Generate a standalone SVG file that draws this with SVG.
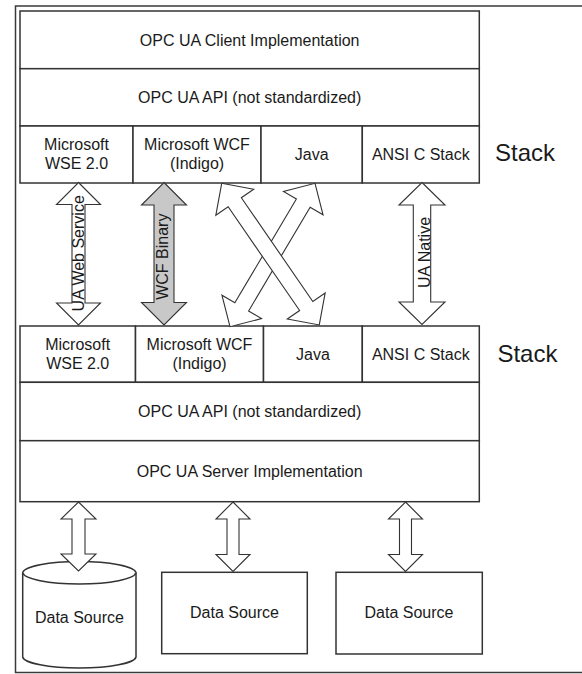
<svg xmlns="http://www.w3.org/2000/svg" width="582" height="674" viewBox="0 0 582 674">
<style>
  .box { fill: #ffffff; stroke: #333333; stroke-width: 1.5; }
  .frame { fill: #ffffff; stroke: #3a3a3a; stroke-width: 1.5; }
  .arr { fill: #ffffff; stroke: #333333; stroke-width: 1.1; stroke-linejoin: miter; }
  .arr-gray { fill: #c8c8c8; stroke: #333333; stroke-width: 1.1; }
  text { font-family: "Liberation Sans", Arial, sans-serif; font-size: 16px; fill: #1a1a1a; }
  .c { text-anchor: middle; }
  .big { font-size: 24px; }
</style>

<rect class="frame" x="15.5" y="6" width="600" height="666.5"/>

<!-- Client side -->
<g id="client-impl">
  <rect class="box" x="20" y="11" width="459.3" height="57.7"/>
  <text class="c" x="249.7" y="46">OPC UA Client Implementation</text>
</g>
<g id="client-api">
  <rect class="box" x="20" y="68.7" width="459.3" height="57.3"/>
  <text class="c" x="249.7" y="103">OPC UA API (not standardized)</text>
</g>
<g id="client-stack">
  <rect class="box" x="20" y="126" width="113" height="57"/>
  <text class="c" x="76.5" y="150">Microsoft</text>
  <text class="c" x="76.5" y="169.3">WSE 2.0</text>
  <rect class="box" x="133" y="126" width="128" height="57"/>
  <text class="c" x="197" y="150">Microsoft WCF</text>
  <text class="c" x="197" y="169.3">(Indigo)</text>
  <rect class="box" x="261" y="126" width="101.3" height="57"/>
  <text class="c" x="311.7" y="160">Java</text>
  <rect class="box" x="362.3" y="126" width="117" height="57"/>
  <text class="c" x="420.8" y="160">ANSI C Stack</text>
  <text class="big" x="495" y="161">Stack</text>
</g>

<!-- Server side -->
<g id="server-stack">
  <rect class="box" x="20" y="326" width="115.5" height="56.3"/>
  <text class="c" x="77.7" y="350">Microsoft</text>
  <text class="c" x="77.7" y="369.3">WSE 2.0</text>
  <rect class="box" x="135.5" y="326" width="128" height="56.3"/>
  <text class="c" x="199.5" y="350">Microsoft WCF</text>
  <text class="c" x="199.5" y="369.3">(Indigo)</text>
  <rect class="box" x="263.5" y="326" width="98.8" height="56.3"/>
  <text class="c" x="312.9" y="360">Java</text>
  <rect class="box" x="362.3" y="326" width="117" height="56.3"/>
  <text class="c" x="420.8" y="360">ANSI C Stack</text>
  <text class="big" x="497.4" y="361.7">Stack</text>
</g>
<g id="server-api">
  <rect class="box" x="20" y="382.3" width="459.3" height="58.4"/>
  <text class="c" x="249.7" y="417.3">OPC UA API (not standardized)</text>
</g>
<g id="server-impl">
  <rect class="box" x="20" y="440.7" width="459.3" height="61"/>
  <text class="c" x="249.7" y="476.8">OPC UA Server Implementation</text>
</g>

<!-- Data sources -->
<g id="ds-cylinder">
  <path class="box" d="M22.7,572.7 A56.7,11.7 0 0 1 136,572.7 V657 A56.7,11.5 0 0 1 22.7,657 Z"/>
  <path class="box" fill="none" d="M22.7,572.7 A56.7,11.7 0 0 0 136,572.7"/>
  <text class="c" x="79.4" y="623.3">Data Source</text>
</g>
<g id="ds-box-1">
  <rect class="box" x="161.7" y="572.3" width="145.6" height="81.4"/>
  <text class="c" x="234.5" y="617.7">Data Source</text>
</g>
<g id="ds-box-2">
  <rect class="box" x="336" y="572.3" width="146.3" height="81.7"/>
  <text class="c" x="409" y="618.3">Data Source</text>
</g>

<!-- Connectors -->
<g id="connectors">
  <g id="ua-web-service">
    <polygon class="arr" points="78.5,182.5 100.5,204.5 85,204.5 85,303 100.5,303 78.5,325 56.5,303 72,303 72,204.5 56.5,204.5"/>
    <text class="c" transform="translate(83.5,253.3) rotate(-90)">UA Web Service</text>
  </g>
  <g id="wcf-binary">
    <polygon class="arr-gray" points="164,182.5 186.5,205 174,205 174,302.5 186.5,302.5 164,325 141.5,302.5 154,302.5 154,205 141.5,205"/>
    <text class="c" transform="translate(168,256.7) rotate(-90)">WCF Binary</text>
  </g>
  <g id="cross-2">
    <polygon class="arr" transform="translate(315,183.3) rotate(120.66)" points="0,0 23,-23 23,-8 143.7,-8 143.7,-23 166.7,0 143.7,23 143.7,8 23,8 23,23"/>
  </g>
  <g id="cross-1">
    <polygon class="arr" transform="translate(221.7,183.3) rotate(55.44)" points="0,0 23,-23 23,-8 149,-8 149,-23 172,0 149,23 149,8 23,8 23,23"/>
  </g>
  <g id="ua-native">
    <polygon class="arr" points="422,182.5 445,205 430.7,205 430.7,302 445,302 422,324.5 399,302 413.3,302 413.3,205 399,205"/>
    <text class="c" transform="translate(430,252.5) rotate(-90)">UA Native</text>
  </g>
  <polygon class="arr" points="78.5,502 96,519 85,519 85,554 96,554 78.5,571 61,554 72,554 72,519 61,519"/>
  <polygon class="arr" points="233,502 250,519 239,519 239,554.5 250,554.5 233,571.5 216,554.5 227,554.5 227,519 216,519"/>
  <polygon class="arr" points="405.5,502 422.5,519 411.5,519 411.5,554.5 422.5,554.5 405.5,571.5 388.5,554.5 399.5,554.5 399.5,519 388.5,519"/>
</g>
</svg>
